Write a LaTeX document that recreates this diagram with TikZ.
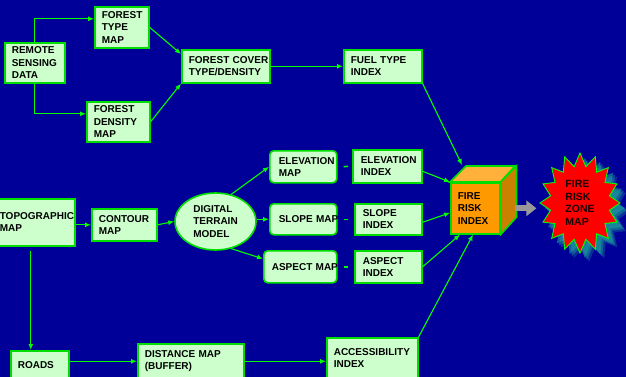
\documentclass[tikz,border=0pt]{standalone}
\usepackage{fontspec}
\setmainfont{Liberation Sans}
\usetikzlibrary{shapes.geometric,arrows.meta}
\definecolor{navy}{HTML}{000099}
\definecolor{boxfill}{HTML}{CCFFCC}
\definecolor{boxline}{HTML}{00DD00}
\definecolor{wire}{HTML}{00FF00}
\definecolor{cubefront}{HTML}{FF9900}
\definecolor{cubetop}{HTML}{FFB13B}
\definecolor{cubeside}{HTML}{CC8000}
\definecolor{shadowteal}{HTML}{1E9E9E}
\definecolor{zonetext}{HTML}{1A0000}

\begin{document}
\begin{tikzpicture}[->,>={Latex[length=6pt,width=5pt]},x=1pt,y=-1pt,color=wire,line width=1.1pt]
    \tikzstyle{box}=[rectangle,draw=boxline,fill=boxfill,line width=1.6pt,text=black,
        font=\bfseries\fontsize{10}{12.3}\selectfont,align=left,anchor=north west,
        inner ysep=0pt,inner xsep=7pt]
    \tikzstyle{mapbox}=[box,rounded corners=4pt,inner xsep=9pt]
    \useasboundingbox (0,0) rectangle (626,377);
    \fill[navy] (0,0) rectangle (626,377);

    % forest branch
    \node[box,text width=46pt,minimum height=40pt] (remote)  at (4,42)    {REMOTE\\SENSING\\DATA};
    \node[box,text width=40pt,minimum height=41pt] (ftype)   at (94,6)    {FOREST\\TYPE\\MAP};
    \node[box,text width=49pt,minimum height=40pt] (fdens)   at (86,101)  {FOREST\\DENSITY\\MAP};
    \node[box,text width=74pt,minimum height=33pt] (fcover)  at (181,49)  {FOREST~COVER\\TYPE/DENSITY};
    \node[box,text width=64pt,minimum height=33pt] (fuel)    at (343,49)  {FUEL TYPE\\INDEX};

    % terrain branch
    \node[box,text width=68pt,minimum height=47pt] (topo)    at (-8,198)  {TOPOGRAPHIC\\MAP};
    \node[box,text width=51pt,minimum height=32pt] (contour) at (91,208)  {CONTOUR\\MAP};
    \node[ellipse,draw=boxline,fill=boxfill,line width=1.6pt,text=black,
        font=\bfseries\fontsize{10}{12.3}\selectfont,align=left,inner sep=0pt,
        minimum width=81pt,minimum height=57pt] (dtm) at (215.5,221.5) {DIGITAL\\TERRAIN\\MODEL};
    \node[mapbox,text width=49pt,minimum height=32pt] (elevmap)  at (269,150) {ELEVATION\\MAP};
    \node[mapbox,text width=49pt,minimum height=31pt] (slopemap) at (269,203) {SLOPE~MAP};
    \node[mapbox,inner xsep=8pt,text width=57pt,minimum height=32pt] (aspmap) at (263,250) {ASPECT~MAP};
    \node[box,inner xsep=8pt,text width=53pt,minimum height=33pt] (elevidx)  at (352,149) {ELEVATION\\INDEX};
    \node[box,inner xsep=8pt,text width=51pt,minimum height=31pt] (slopeidx) at (354,203) {SLOPE\\INDEX};
    \node[box,inner xsep=8pt,text width=51pt,minimum height=32pt] (aspidx)   at (354,250) {ASPECT\\INDEX};

    % roads branch
    \node[box,text width=44pt,minimum height=28pt] (roads)   at (10,350)  {ROADS};
    \node[box,text width=92pt,minimum height=35pt] (dist)    at (137,343) {DISTANCE MAP\\(BUFFER)};
    \node[box,text width=77pt,minimum height=40pt] (access)  at (326,337) {ACCESSIBILITY\\INDEX};

    % cube
    \node[box,fill=cubefront,text width=35pt,minimum height=51pt] (cube) at (450,182) {FIRE\\RISK\\INDEX};
    \draw[-,fill=cubetop,draw=boxline,line width=1.6pt]
        (cube.north west) -- ++(16,-16) -- ++(49,0) -- (cube.north east) -- cycle;
    \draw[-,fill=cubeside,draw=boxline,line width=1.6pt]
        (cube.north east) -- ++(16,-16) -- ++(0,51) -- (cube.south east) -- cycle;

    % star
    \foreach \s/\o in {9/0.3,7/0.45,5/0.6}
        \fill[-,shadowteal,opacity=\o] plot[samples=33,domain=0:32,variable=\k]
            ({580+\s+(35+5*cos(180*\k))*cos(90+11.25*\k)},{203+\s-(43.5+6.5*cos(180*\k))*sin(90+11.25*\k)}) -- cycle;
    \draw[-,fill=red,draw=wire,line width=0.9pt] plot[samples=33,domain=0:32,variable=\k]
        ({580+(35+5*cos(180*\k))*cos(90+11.25*\k)},{203-(43.5+6.5*cos(180*\k))*sin(90+11.25*\k)}) -- cycle;
    \node[text=zonetext,font=\bfseries\fontsize{10.5}{12.7}\selectfont,align=left,
        minimum width=80pt,minimum height=100pt] (zone) at (580,203) {FIRE\\RISK\\ZONE\\MAP};

    \draw (remote.north) |- ([yshift=8.5pt]ftype.west);
    \draw (remote.south) |- ([yshift=8pt]fdens.west);
    \path
        (ftype.east)              edge                          ([yshift=-5pt]fcover.north west)
        (fdens.east)              edge                          (fcover.south west)
        (fcover)                  edge                          (fuel)
        (contour.west -| topo.east) edge                        (contour.west)
        (contour.east)            edge                          (dtm.west)
        (dtm.60)                  edge                          (elevmap.west)
        (slopemap.west -| dtm.east) edge                        (slopemap.west)
        (dtm.-60)                 edge                          ([yshift=8pt]aspmap.west)
        (elevmap.east)            edge[-,line width=1.5pt,shorten <=6pt,shorten >=4pt] (elevidx.west)
        (slopemap.east)           edge[-,line width=1.5pt,shorten <=6pt,shorten >=6pt] (slopeidx.west)
        (aspmap.east)             edge[-,line width=1.5pt,shorten <=6pt,shorten >=6pt] (aspidx.west)
        (fuel.south east)         edge                          ([shift={(12,-17)}]cube.north west)
        ([yshift=-5pt]elevidx.east) edge                        (cube.north west)
        ([yshift=-3pt]slopeidx.east) edge                       ([yshift=-4.5pt]cube.west)
        (aspidx.east)             edge                          ([xshift=10pt]cube.south west)
        (access.north east)       edge                          ([xshift=23pt]cube.south west)
        ([xshift=-3pt]topo.south) edge[shorten <=4pt]           ([xshift=-9pt]roads.north)
        (roads.east |- dist.west) edge                          (dist.west)
        (dist.east)               edge                          (dist.east -| access.west);
    \draw[-{Triangle[width=15pt,length=10pt]},line width=6pt,gray!80,shorten >=3pt]
        ([xshift=14pt]cube.east) -- (cube.east -| zone.west);
\end{tikzpicture}
\end{document}
